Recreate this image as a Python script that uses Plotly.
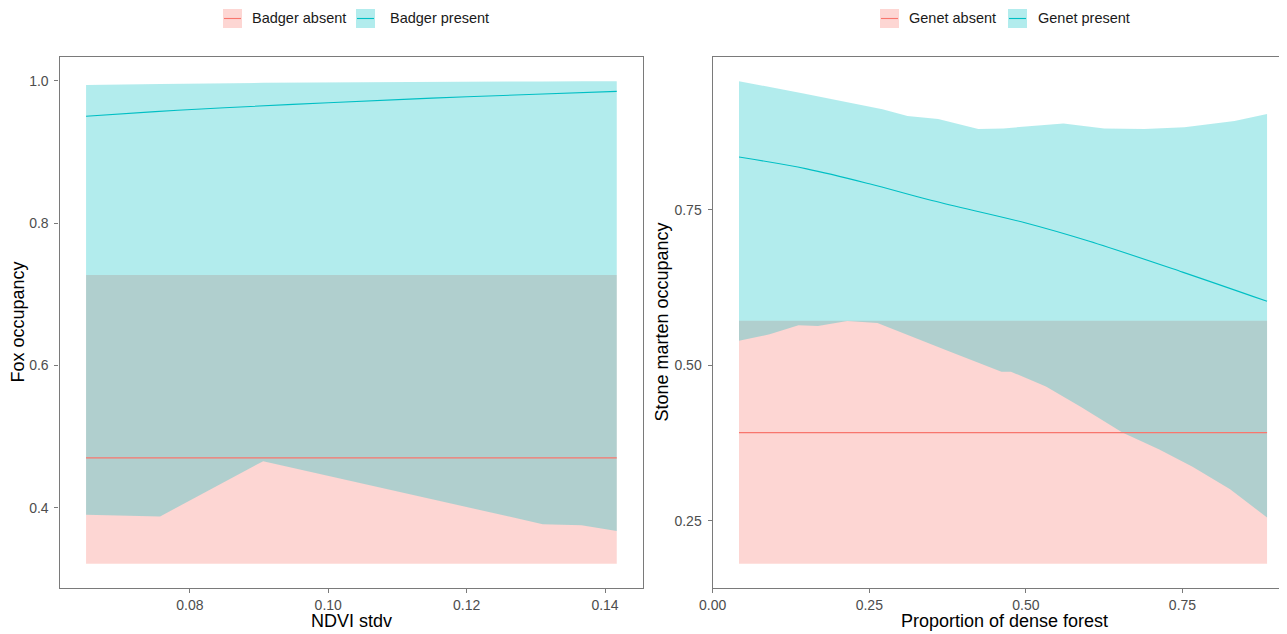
import plotly.graph_objects as go

# ---------------- data: left panel (fox vs NDVI stdv) ----------------
ndvi_env_x = [0.0650, 0.0757, 0.0906, 0.1310, 0.1366, 0.1417]
badger_present_lower = [0.390, 0.3876, 0.4653, 0.3768, 0.3754, 0.3671]
badger_present_upper = [0.9940, 0.9955, 0.9970, 0.9990, 0.9992, 0.9994]
ndvi_fit_x = [0.0650, 0.0750, 0.0850, 0.1000, 0.1150, 0.1300, 0.1417]
badger_present_fit = [0.950, 0.9565, 0.9620, 0.9690, 0.9755, 0.9810, 0.9850]
badger_absent_lower = [0.321, 0.321]
badger_absent_upper = [0.727, 0.727]
badger_absent_fit = [0.470, 0.470]
ndvi_flat_x = [0.0650, 0.1417]

# ---------------- data: right panel (stone marten vs dense forest) ----------------
forest_lower_x = [0.042, 0.091, 0.137, 0.168, 0.215, 0.263, 0.375, 0.461, 0.476,
                  0.532, 0.588, 0.654, 0.713, 0.766, 0.826, 0.885]
genet_present_lower = [0.5395, 0.550, 0.5645, 0.5635, 0.5715, 0.568, 0.5235, 0.490, 0.490,
                       0.466, 0.433, 0.392, 0.365, 0.337, 0.301, 0.2555]
forest_upper_x = [0.042, 0.143, 0.271, 0.311, 0.360, 0.424, 0.464, 0.560, 0.625,
                  0.689, 0.753, 0.833, 0.885]
genet_present_upper = [0.957, 0.9375, 0.912, 0.901, 0.896, 0.880, 0.881, 0.889, 0.881,
                       0.880, 0.883, 0.893, 0.904]
forest_fit_x = [0.042, 0.150, 0.250, 0.350, 0.500, 0.600, 0.750, 0.885]
genet_present_fit = [0.835, 0.816, 0.792, 0.765, 0.729, 0.700, 0.650, 0.603]
genet_absent_lower = [0.181, 0.181]
genet_absent_upper = [0.572, 0.572]
genet_absent_fit = [0.392, 0.392]
forest_flat_x = [0.042, 0.885]

left_xticks = [0.08, 0.10, 0.12, 0.14]
left_xlabels = ["0.08", "0.10", "0.12", "0.14"]
left_yticks = [0.4, 0.6, 0.8, 1.0]
left_ylabels = ["0.4", "0.6", "0.8", "1.0"]
right_xticks = [0.0, 0.25, 0.50, 0.75]
right_xlabels = ["0.00", "0.25", "0.50", "0.75"]
right_yticks = [0.25, 0.50, 0.75]
right_ylabels = ["0.25", "0.50", "0.75"]

left_legend = ["Badger absent", "Badger present"]
right_legend = ["Genet absent", "Genet present"]

# ---------------- styling ----------------
# page body has an 8px margin, so the figure is drawn 8px smaller and all
# target (screen) pixel positions are shifted by that offset
OFF = 8
W, H = 1287 - OFF, 634 - OFF
RED = "#F8766D"
CYAN = "#00BFC4"
RED_FILL = "rgba(248,118,109,0.3)"
CYAN_FILL = "rgba(0,191,196,0.3)"
FONT = "Liberation Sans, Arial, sans-serif"
FRAME = "#7a7a7a"


def px(x):
    return (x - OFF) / W


def py(y):
    return 1 - (y - OFF) / H


def polygon(xl, yl, xu, yu):
    return list(xl) + list(xu)[::-1], list(yl) + list(yu)[::-1]


def expand(lo, hi, f=0.05):
    s = hi - lo
    return [lo - f * s, hi + f * s]


fig = go.Figure()

# left panel ribbons
bx, by = polygon(ndvi_flat_x, badger_absent_lower, ndvi_flat_x, badger_absent_upper)
fig.add_trace(go.Scatter(x=bx, y=by, fill="toself", fillcolor=RED_FILL, mode="none",
                         showlegend=False, hoverinfo="skip", xaxis="x", yaxis="y"))
bx, by = polygon(ndvi_env_x, badger_present_lower, ndvi_env_x, badger_present_upper)
fig.add_trace(go.Scatter(x=bx, y=by, fill="toself", fillcolor=CYAN_FILL, mode="none",
                         showlegend=False, hoverinfo="skip", xaxis="x", yaxis="y"))
fig.add_trace(go.Scatter(x=ndvi_flat_x, y=badger_absent_fit, mode="lines",
                         line=dict(color=RED, width=1.1), showlegend=False,
                         xaxis="x", yaxis="y"))
fig.add_trace(go.Scatter(x=ndvi_fit_x, y=badger_present_fit, mode="lines",
                         line=dict(color=CYAN, width=1.1, shape="spline"), showlegend=False,
                         xaxis="x", yaxis="y"))

# right panel ribbons
gx, gy = polygon(forest_flat_x, genet_absent_lower, forest_flat_x, genet_absent_upper)
fig.add_trace(go.Scatter(x=gx, y=gy, fill="toself", fillcolor=RED_FILL, mode="none",
                         showlegend=False, hoverinfo="skip", xaxis="x2", yaxis="y2"))
gx, gy = polygon(forest_lower_x, genet_present_lower, forest_upper_x, genet_present_upper)
fig.add_trace(go.Scatter(x=gx, y=gy, fill="toself", fillcolor=CYAN_FILL, mode="none",
                         showlegend=False, hoverinfo="skip", xaxis="x2", yaxis="y2"))
fig.add_trace(go.Scatter(x=forest_flat_x, y=genet_absent_fit, mode="lines",
                         line=dict(color=RED, width=1.1), showlegend=False,
                         xaxis="x2", yaxis="y2"))
fig.add_trace(go.Scatter(x=forest_fit_x, y=genet_present_fit, mode="lines",
                         line=dict(color=CYAN, width=1.1, shape="spline"), showlegend=False,
                         xaxis="x2", yaxis="y2"))

# ranges (ggplot-like 5% expansion)
lx_range = expand(min(ndvi_env_x), max(ndvi_env_x))
ly_range = expand(min(badger_absent_lower), max(badger_present_upper))
rx_lo = expand(min(forest_lower_x), max(forest_lower_x))[0]
ry_range = expand(min(genet_absent_lower), max(genet_present_upper))
# right panel is cut by the image edge
R_LEFT = 712.6
right_dom = [px(R_LEFT), 1.0]
rx_range = [rx_lo, rx_lo + (1287 - R_LEFT) / 626.4]

tickfont = dict(family=FONT, size=14, color="#4d4d4d")
common = dict(showgrid=False, zeroline=False, showline=True, linecolor=FRAME, linewidth=1.2,
              ticks="outside", ticklen=4, tickcolor=FRAME, tickwidth=1.1,
              tickfont=tickfont, automargin=False)

ydom = [py(588), py(57)]
fig.update_layout(
    width=W, height=H,
    margin=dict(l=0, r=0, t=0, b=0),
    paper_bgcolor="white", plot_bgcolor="white",
    showlegend=False,
    xaxis=dict(domain=[px(59.5), px(643.3)], range=lx_range, tickvals=left_xticks,
               ticktext=left_xlabels, anchor="y", mirror=True, **common),
    yaxis=dict(domain=ydom, range=ly_range, tickvals=left_yticks,
               ticktext=left_ylabels, anchor="x", mirror=True, ticklabelstandoff=3, **common),
    xaxis2=dict(domain=right_dom, range=rx_range, tickvals=right_xticks,
                ticktext=right_xlabels, anchor="y2", mirror=True, **common),
    yaxis2=dict(domain=ydom, range=ry_range, tickvals=right_yticks,
                ticktext=right_ylabels, anchor="x2", mirror=False, ticklabelstandoff=3, **common),
)

annotations = []
shapes = []

# axis titles
title_font = dict(family=FONT, size=18, color="black")
annotations += [
    dict(text="NDVI stdv", x=px(351.4), y=py(621), xref="paper", yref="paper",
         showarrow=False, font=title_font, xanchor="center", yanchor="middle"),
    dict(text="Proportion of dense forest", x=px(1004), y=py(621), xref="paper", yref="paper",
         showarrow=False, font=title_font, xanchor="center", yanchor="middle"),
    dict(text="Fox occupancy", x=px(18), y=py(322.5), xref="paper", yref="paper",
         showarrow=False, font=title_font, textangle=-90, xanchor="center", yanchor="middle"),
    dict(text="Stone marten occupancy", x=px(662), y=py(322.5), xref="paper", yref="paper",
         showarrow=False, font=title_font, textangle=-90, xanchor="center", yanchor="middle"),
]

# manual ggplot-style legends
legend_font = dict(family=FONT, size=14.5, color="#1a1a1a")
KEY = 19
ky0, ky1 = 9, 9 + KEY


def add_legend(items, key_lefts, text_lefts):
    fills = [RED_FILL, CYAN_FILL]
    cols = [RED, CYAN]
    for lab, kx, tx, fc, lc in zip(items, key_lefts, text_lefts, fills, cols):
        shapes.append(dict(type="rect", xref="paper", yref="paper",
                           x0=px(kx), x1=px(kx + KEY), y0=py(ky1), y1=py(ky0),
                           fillcolor=fc, line=dict(width=0), layer="above"))
        shapes.append(dict(type="line", xref="paper", yref="paper",
                           x0=px(kx + 1), x1=px(kx + KEY - 1),
                           y0=py((ky0 + ky1) / 2), y1=py((ky0 + ky1) / 2),
                           line=dict(color=lc, width=1.1), layer="above"))
        annotations.append(dict(text=lab, x=px(tx), y=py((ky0 + ky1) / 2), xref="paper",
                                yref="paper", showarrow=False, font=legend_font,
                                xanchor="left", yanchor="middle"))


add_legend(left_legend, [223, 356], [250, 388])
add_legend(right_legend, [880, 1008], [907, 1036])

fig.update_layout(annotations=annotations, shapes=shapes)

fig.write_html("out.html")
